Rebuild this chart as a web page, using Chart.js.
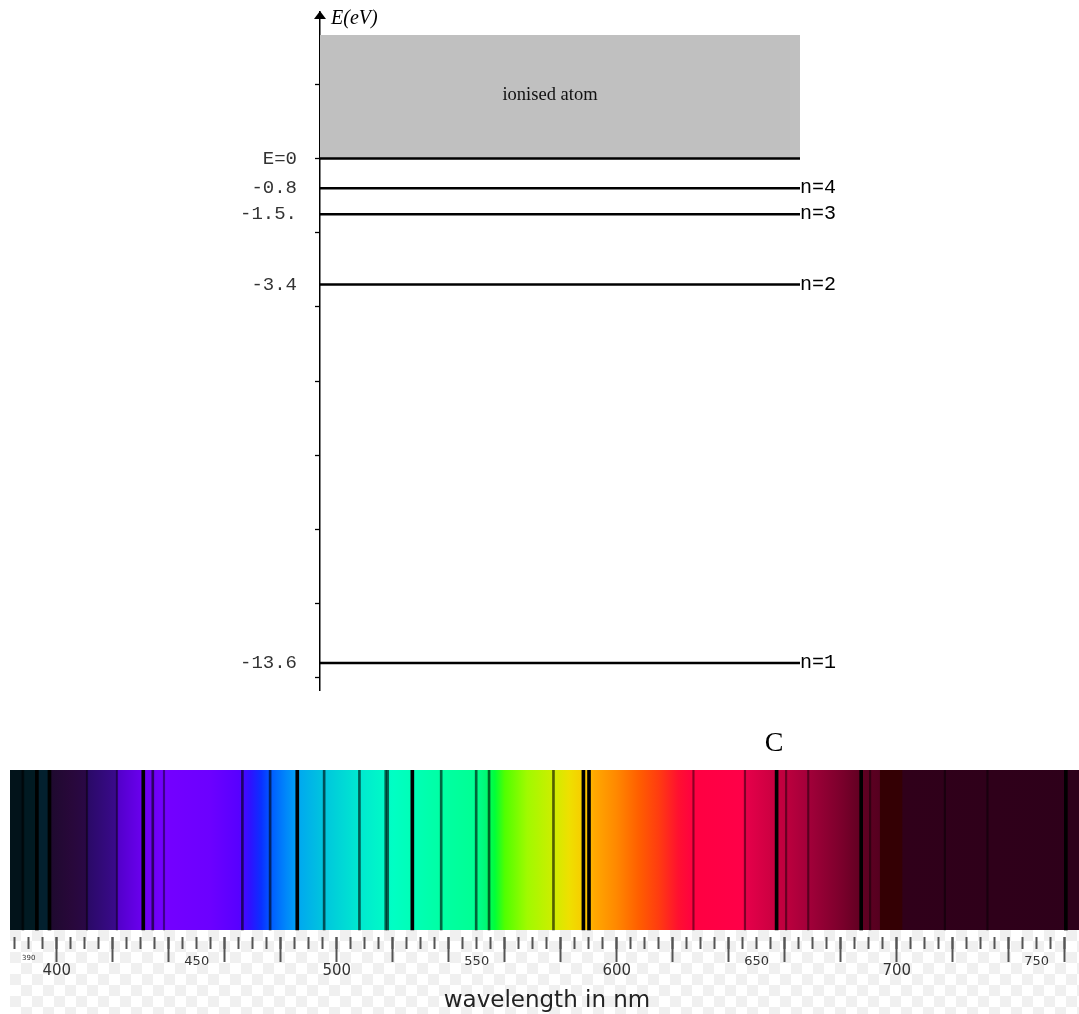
<!DOCTYPE html>
<html>
<head>
<meta charset="utf-8">
<script src="https://cdn.jsdelivr.net/npm/chart.js@4.4.1/dist/chart.umd.min.js"></script>
<style>
html,body{margin:0;padding:0;background:#fff;}
body{width:1079px;height:1014px;position:relative;overflow:hidden;}
#top{position:absolute;left:0;top:0;}
#bottom{position:absolute;left:0;top:730px;z-index:2;}
#checker{position:absolute;left:10px;top:930px;width:1069px;height:84px;background-color:#fff;
  background-image:conic-gradient(#f0f0f0 25%, #fff 0 50%, #f0f0f0 0 75%, #fff 0);
  background-size:22px 22px;background-position:11px 0;z-index:1;}
</style>
</head>
<body>
<div id="checker"></div>
<canvas id="top" width="1079" height="700"></canvas>
<canvas id="bottom" width="1079" height="284"></canvas>
<script>
// ---------------- Energy level diagram data ----------------
const energyLevels = [0, -0.8, -1.5, -3.4, -13.6];
const energyLabels = ['E=0', '-0.8', '-1.5.', '-3.4', '-13.6'];
const levelNames   = ['', 'n=4', 'n=3', 'n=2', 'n=1'];
const energyAxisMarks = [2, 0, -2, -4, -6, -8, -10, -12, -14];
const ionisedTop = 3.33;
const energyMin = -14.33, energyMax = 3.95;
const xSpan = [0, 3.6];

// ---------------- Spectrum data ----------------
const wlMin = 383.3, wlMax = 765.1;
const spectrumNm = [383.3, 387.8, 387.9, 392.8, 392.9, 397.3, 397.5, 405, 410.6, 410.9, 421.3, 421.6, 426, 431, 439, 455, 465, 469, 473, 477, 482, 487, 495, 502, 508, 520, 537, 549, 553, 556.5, 560, 568, 577, 583, 588, 592, 600, 608, 615, 622, 627.5, 645, 646, 657, 668, 680, 687, 693.8, 694.2, 701.8, 702.2, 765.1];
const spectrumColors = ['#02131a','#02131a','#011a22','#011a22','#03202e','#03202e','#1e0a2e','#28083a','#2a0846','#2a0a66','#3a0a8c','#5200c8','#5e00dc','#6c00f0','#7400ff','#6c00ff','#5800ff','#3010ff','#0a30ff','#0060ff','#0088fa','#00aaee','#00c4de','#00d8d6','#00e8d0','#00ffc4','#00ffa4','#00ff94','#00f878','#00ff38','#50ff00','#a0fa00','#ccee00','#eee000','#f8cc00','#ffa800','#ff8800','#ff5e00','#ff3c10','#ff1030','#ff0042','#ff0048','#e6004a','#c80040','#a4003a','#7c002c','#620022','#560020','#340004','#340004','#30001a','#2e001a'];
const strongLinesNm = [392.9, 397.4, 430.9, 485.9, 527.0, 588.1, 590.1, 657.1, 687.3, 760.4];
const mediumLinesNm = [387.9, 434.3, 466.3, 476.2, 495.5, 508.1, 517.5, 518.2, 537.3, 549.8, 554.4, 577.4];
const weakLinesNm   = [410.8, 421.5, 438.3, 627.4, 645.8, 660.5, 668.4, 690.5, 717.2, 732.4];
const wlMinorTicks = [];
for (let w = 385; w <= 760; w += 5) wlMinorTicks.push(w);
const wlMajorTicks = [400, 420, 440, 460, 480, 500, 520, 540, 560, 580, 600, 620, 640, 660, 680, 700, 720, 740, 760];
const wlLabelsMain = [400, 500, 600, 700];
const wlLabelsMid  = [450, 550, 650, 750];
const wlLabelsSmall = [390];

const MONO = "'Liberation Mono', 'DejaVu Sans Mono', monospace";
const SERIF = "'Liberation Serif', 'DejaVu Serif', serif";
const SANS = "'DejaVu Sans', sans-serif";

// ---------------- Top chart ----------------
const levelDatasets = energyLevels.map(E => ({
  type: 'line',
  data: [{x: xSpan[0], y: E}, {x: xSpan[1], y: E}],
  borderColor: '#000', borderWidth: 2.5, pointRadius: 0, fill: false, order: 0
}));
const ionisedDataset = {
  type: 'line',
  data: [{x: xSpan[0], y: ionisedTop}, {x: xSpan[1], y: ionisedTop}],
  borderColor: 'rgba(0,0,0,0)', borderWidth: 0, pointRadius: 0,
  fill: {value: 0}, backgroundColor: '#c0c0c0', order: 10
};

const topDecor = {
  id: 'topDecor',
  afterDraw(chart) {
    const {ctx, chartArea: a, scales: {x, y}} = chart;
    ctx.save();
    ctx.fillStyle = '#000';
    ctx.beginPath();
    ctx.moveTo(a.left, a.top - 1);
    ctx.lineTo(a.left - 6, a.top + 7);
    ctx.lineTo(a.left + 6, a.top + 7);
    ctx.closePath();
    ctx.fill();
    ctx.font = 'italic 20px ' + SERIF;
    ctx.textBaseline = 'middle';
    ctx.textAlign = 'left';
    ctx.fillText('E(eV)', a.left + 11, 19);
    ctx.font = '18.5px ' + SERIF;
    ctx.fillStyle = '#111';
    ctx.textAlign = 'center';
    ctx.fillText('ionised atom', x.getPixelForValue(1.725), y.getPixelForValue(1.71));
    ctx.restore();
  }
};

new Chart(document.getElementById('top'), {
  type: 'line',
  data: { datasets: [...levelDatasets, ionisedDataset] },
  options: {
    responsive: false, animation: false, devicePixelRatio: 1, events: [],
    layout: { padding: { top: 12, bottom: 10, left: 0, right: 0 } },
    plugins: { legend: {display: false}, tooltip: {enabled: false} },
    scales: {
      x: { type: 'linear', min: xSpan[0], max: xSpan[1], display: false },
      y: {
        type: 'linear', position: 'left', min: energyMin, max: energyMax,
        border: { display: true, color: '#000', width: 1.5 },
        grid: {
          display: true, drawOnChartArea: false, drawTicks: true, tickLength: 5, tickWidth: 1.3,
          tickColor: c => (energyAxisMarks.includes(c.tick.value) ? '#000' : 'rgba(0,0,0,0)')
        },
        ticks: {
          autoSkip: false, padding: 18, color: '#333',
          font: { family: MONO, size: 19 },
          callback: v => { const i = energyLevels.indexOf(v); return i >= 0 ? energyLabels[i] : ''; }
        },
        afterBuildTicks: s => {
          s.ticks = [...new Set([...energyAxisMarks, ...energyLevels])].sort((a, b) => a - b).map(v => ({value: v}));
        },
        afterFit: s => { s.width = 320; s.paddingTop = 0; s.paddingBottom = 0; }
      },
      yR: {
        type: 'linear', position: 'right', min: energyMin, max: energyMax,
        border: { display: false },
        grid: { display: false, drawTicks: false },
        ticks: {
          autoSkip: false, padding: 0, color: '#000',
          font: { family: MONO, size: 20 },
          callback: v => { const i = energyLevels.indexOf(v); return i >= 0 ? levelNames[i] : ''; }
        },
        afterBuildTicks: s => {
          s.ticks = energyLevels.filter((v, i) => levelNames[i]).map(v => ({value: v}));
        },
        afterFit: s => { s.width = 279; s.paddingTop = 0; s.paddingBottom = 0; }
      }
    }
  },
  plugins: [topDecor]
});

// ---------------- Bottom chart (spectrum) ----------------
const tickRowY = -0.04375;

function spectrumGradient(context) {
  const chart = context.chart;
  const a = chart.chartArea;
  const xs = chart.scales.x;
  if (!a || !xs) return '#888';
  const g = chart.ctx.createLinearGradient(a.left, 0, a.right, 0);
  spectrumNm.forEach((nm, i) => {
    let t = (xs.getPixelForValue(nm) - a.left) / (a.right - a.left);
    t = Math.min(1, Math.max(0, t));
    g.addColorStop(t, spectrumColors[i]);
  });
  return g;
}

function lineBars(list, color, thickness) {
  return {
    type: 'bar', xAxisID: 'x', yAxisID: 'y',
    data: list.map(nm => ({x: nm, y: [0, 1]})),
    backgroundColor: color, borderWidth: 0, barThickness: thickness,
    grouped: false, order: 0
  };
}

function markAxis(values, len) {
  return {
    type: 'linear', axis: 'x', min: wlMin, max: wlMax, offset: false,
    position: { y: tickRowY },
    border: { display: false },
    grid: { display: true, drawOnChartArea: false, drawTicks: true, tickLength: len, tickWidth: 2, tickColor: '#555', offset: false },
    ticks: { display: false, autoSkip: false, padding: 0 },
    afterBuildTicks: s => { s.ticks = values.map(v => ({value: v})); },
    afterFit: s => { s.paddingLeft = 0; s.paddingRight = 0; }
  };
}

function labelAxis(values, size, pad) {
  return {
    type: 'linear', axis: 'x', min: wlMin, max: wlMax, offset: false,
    position: { y: tickRowY },
    border: { display: false },
    grid: { display: false, drawTicks: false },
    ticks: {
      autoSkip: false, maxRotation: 0, minRotation: 0, padding: pad, color: '#333',
      font: { family: SANS, size: size },
      callback: v => String(v)
    },
    afterBuildTicks: s => { s.ticks = values.map(v => ({value: v})); },
    afterFit: s => { s.paddingLeft = 0; s.paddingRight = 0; }
  };
}

const bottomDecor = {
  id: 'bottomDecor',
  afterDraw(chart) {
    const ctx = chart.ctx;
    ctx.save();
    ctx.fillStyle = '#000';
    ctx.font = '28px ' + SERIF;
    ctx.textAlign = 'center';
    ctx.textBaseline = 'middle';
    ctx.fillText('C', 774, 14);
    ctx.fillStyle = '#222';
    ctx.font = '23px ' + SANS;
    ctx.textBaseline = 'alphabetic';
    ctx.fillText('wavelength in nm', 547, 276.5);
    ctx.restore();
  }
};

new Chart(document.getElementById('bottom'), {
  type: 'line',
  data: {
    datasets: [
      lineBars(strongLinesNm, '#000', 3),
      lineBars(mediumLinesNm, 'rgba(0,0,0,0.6)', 2),
      lineBars(weakLinesNm, 'rgba(0,0,0,0.45)', 1.5),
      {
        type: 'line', xAxisID: 'x', yAxisID: 'y',
        data: [{x: wlMin, y: 1}, {x: wlMax, y: 1}],
        borderColor: 'rgba(0,0,0,0)', borderWidth: 0, pointRadius: 0,
        fill: 'origin', backgroundColor: spectrumGradient, order: 10
      }
    ]
  },
  options: {
    responsive: false, animation: false, devicePixelRatio: 1, events: [],
    layout: { padding: { top: 40, bottom: 0, left: 10, right: 0 } },
    plugins: { legend: {display: false}, tooltip: {enabled: false} },
    scales: {
      x: markAxis(wlMinorTicks, 12),
      xMajor: markAxis(wlMajorTicks, 25),
      xLabA: labelAxis(wlLabelsMain, 15, 25),
      xLabB: labelAxis(wlLabelsMid, 13, 17),
      xLabC: labelAxis(wlLabelsSmall, 7, 16.8),
      y: { type: 'linear', min: -0.525, max: 1, display: false }
    }
  },
  plugins: [bottomDecor]
});
</script>
</body>
</html>
